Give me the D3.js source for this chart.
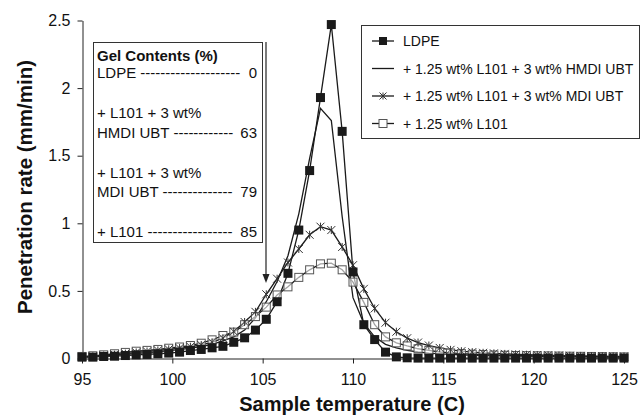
<!DOCTYPE html>
<html>
<head>
<meta charset="utf-8">
<script src="https://cdn.jsdelivr.net/npm/d3@7"></script>
<style>
  body { margin: 0; background: #fff; }
  text { font-family: "Liberation Sans", Arial, sans-serif; fill: #111; }
</style>
</head>
<body>
<svg id="chart" width="641" height="416"></svg>
<script>
// temperatures: 95 to 125 C in 0.6 C steps
const temps = d3.range(51).map(i => +(95 + 0.6 * i).toFixed(1));

const ldpe = [0.01, 0.01, 0.015, 0.017, 0.022, 0.027, 0.03, 0.035, 0.04, 0.047,
  0.059, 0.067, 0.079, 0.09, 0.12, 0.153, 0.21, 0.29, 0.42, 0.63,
  0.95, 1.39, 1.93, 2.47, 1.68, 0.64, 0.25, 0.14, 0.047, 0.012,
  0.005, 0.003, 0.003, 0.003, 0.003, 0.003, 0.003, 0.003, 0.003, 0.003,
  0.003, 0.003, 0.003, 0.003, 0.003, 0.003, 0.003, 0.003, 0.003, 0.003, 0.003];

const hmdi = [0.012, 0.016, 0.02, 0.025, 0.03, 0.037, 0.044, 0.05, 0.058, 0.066,
  0.076, 0.088, 0.105, 0.13, 0.16, 0.21, 0.3, 0.42, 0.57, 0.76,
  1.07, 1.48, 1.85, 1.76, 1.05, 0.45, 0.26, 0.16, 0.105, 0.078,
  0.06, 0.048, 0.04, 0.034, 0.03, 0.027, 0.024, 0.022, 0.02, 0.019,
  0.018, 0.017, 0.016, 0.015, 0.014, 0.013, 0.012, 0.012, 0.011, 0.011, 0.01];

const mdi = [0.012, 0.016, 0.022, 0.028, 0.036, 0.045, 0.052, 0.06, 0.068, 0.077,
  0.087, 0.1, 0.12, 0.15, 0.2, 0.27, 0.345, 0.475, 0.59, 0.71,
  0.81, 0.915, 0.975, 0.95, 0.825, 0.69, 0.515, 0.37, 0.265, 0.198,
  0.15, 0.118, 0.096, 0.078, 0.064, 0.054, 0.047, 0.042, 0.038, 0.034,
  0.031, 0.028, 0.026, 0.024, 0.022, 0.02, 0.019, 0.018, 0.017, 0.016, 0.015];

const l101 = [0.015, 0.02, 0.027, 0.035, 0.045, 0.054, 0.06, 0.067, 0.076, 0.085,
  0.096, 0.113, 0.138, 0.17, 0.195, 0.25, 0.31, 0.38, 0.47, 0.53,
  0.6, 0.656, 0.7, 0.705, 0.656, 0.565, 0.415, 0.25, 0.16, 0.116,
  0.093, 0.072, 0.06, 0.048, 0.041, 0.036, 0.032, 0.029, 0.026, 0.024,
  0.022, 0.021, 0.02, 0.019, 0.018, 0.017, 0.016, 0.015, 0.014, 0.013, 0.012];

const legendLabels = ["LDPE", "+ 1.25 wt% L101 + 3 wt% HMDI UBT",
  "+ 1.25 wt% L101 + 3 wt% MDI UBT", "+ 1.25 wt% L101"];
// gel contents box: [label, value]; a value gets a dashed leader
const gelLines = [
  ["LDPE", "0"],
  ["", ""],
  ["+ L101 + 3 wt%", ""],
  ["HMDI UBT", "63"],
  ["", ""],
  ["+ L101 + 3 wt%", ""],
  ["MDI UBT", "79"],
  ["", ""],
  ["+ L101", "85"]
];
const xTicks = [95, 100, 105, 110, 115, 120, 125];
const yTicks = [0, 0.5, 1, 1.5, 2, 2.5];

const svg = d3.select("#chart");
const x = d3.scaleLinear().domain([95, 125]).range([82, 624]);
const y = d3.scaleLinear().domain([0, 2.5]).range([358.5, 20.5]);

// axes
svg.append("g")
  .attr("transform", "translate(0,358.5)")
  .call(d3.axisBottom(x).tickValues(xTicks).tickSize(5).tickPadding(10).tickSizeOuter(0))
  .call(g => g.selectAll("text").attr("font-size", 16).style("fill", "#111"));
svg.append("g")
  .attr("transform", "translate(82.5,0)")
  .call(d3.axisLeft(y).tickValues(yTicks).tickSize(5).tickPadding(7).tickSizeOuter(0)
    .tickFormat(d => d))
  .call(g => g.selectAll("text").attr("font-size", 16).style("fill", "#111"));
svg.selectAll(".domain, .tick line").attr("stroke", "#222");

svg.append("text")
  .attr("x", 352).attr("y", 411)
  .attr("text-anchor", "middle")
  .attr("font-size", 20).attr("font-weight", "bold")
  .text("Sample temperature (C)");
svg.append("text")
  .attr("transform", "translate(32,187) rotate(-90)")
  .attr("text-anchor", "middle")
  .attr("font-size", 20.5).attr("font-weight", "bold")
  .text("Penetration rate (mm/min)");

// series lines
const line = d3.line().x((d, i) => x(temps[i])).y(d => y(d));
[ldpe, hmdi, mdi, l101].forEach(s => {
  svg.append("path").datum(s)
    .attr("d", line)
    .attr("fill", "none")
    .attr("stroke", "#1a1a1a")
    .attr("stroke-width", 1.3);
});

// markers
function star(g, cx, cy, r) {
  g.append("path")
    .attr("d", `M${cx - r},${cy - r}L${cx + r},${cy + r}M${cx - r},${cy + r}L${cx + r},${cy - r}M${cx},${cy - r}L${cx},${cy + r}`)
    .attr("stroke", "#333").attr("stroke-width", 1).attr("fill", "none");
}
const mk = svg.append("g");
l101.forEach((v, i) => {
  mk.append("rect").attr("x", x(temps[i]) - 4).attr("y", y(v) - 4)
    .attr("width", 8).attr("height", 8)
    .attr("fill", "#fff").attr("fill-opacity", 0.6)
    .attr("stroke", "#555").attr("stroke-width", 1);
});
mdi.forEach((v, i) => star(mk, x(temps[i]), y(v), 4));
ldpe.forEach((v, i) => {
  mk.append("rect").attr("x", x(temps[i]) - 4.5).attr("y", y(v) - 4.5)
    .attr("width", 9).attr("height", 9)
    .attr("fill", "#1a1a1a");
});

// gel content box and arrow
svg.append("rect").attr("x", 93.5).attr("y", 42.5).attr("width", 169).attr("height", 200)
  .attr("fill", "#fff").attr("stroke", "#333");
svg.append("text").attr("x", 97).attr("y", 61)
  .attr("font-size", 15).attr("font-weight", "bold").text("Gel Contents (%)");
gelLines.forEach((d, i) => {
  const yy = 78 + i * 19.9;
  const lab = svg.append("text").attr("x", 97).attr("y", yy).attr("font-size", 15).text(d[0]);
  if (d[1]) {
    const num = svg.append("text").attr("x", 257).attr("y", yy).attr("text-anchor", "end")
      .attr("font-size", 15).text(d[1]);
    const stop = 257 - num.node().getComputedTextLength() - 4;
    let s = d[0] + " ";
    lab.text(s + "-");
    while (97 + lab.node().getComputedTextLength() < stop) { s += "-"; lab.text(s + "-"); }
    lab.text(s);
  }
});
const ax = 266;
svg.append("line").attr("x1", ax).attr("x2", ax).attr("y1", 42).attr("y2", 276)
  .attr("stroke", "#222").attr("stroke-width", 1.2);
svg.append("path").attr("d", `M${ax - 3.5},274L${ax + 3.5},274L${ax},283Z`).attr("fill", "#222");

// legend
const lg = svg.append("g");
lg.append("rect").attr("x", 361.5).attr("y", 25.5).attr("width", 278).attr("height", 113)
  .attr("fill", "#fff").attr("stroke", "#333");
legendLabels.forEach((t, i) => {
  const yy = 41 + i * 27.5;
  lg.append("line").attr("x1", 372).attr("x2", 394).attr("y1", yy).attr("y2", yy)
    .attr("stroke", "#1a1a1a").attr("stroke-width", 1.3);
  if (i === 0) lg.append("rect").attr("x", 379).attr("y", yy - 4).attr("width", 8).attr("height", 8).attr("fill", "#1a1a1a");
  if (i === 2) star(lg, 383, yy, 3.5);
  if (i === 3) lg.append("rect").attr("x", 379).attr("y", yy - 4).attr("width", 8).attr("height", 8)
    .attr("fill", "#fff").attr("stroke", "#555");
  lg.append("text").attr("x", 403).attr("y", yy + 5).attr("font-size", 14).text(t);
});
</script>
</body>
</html>
